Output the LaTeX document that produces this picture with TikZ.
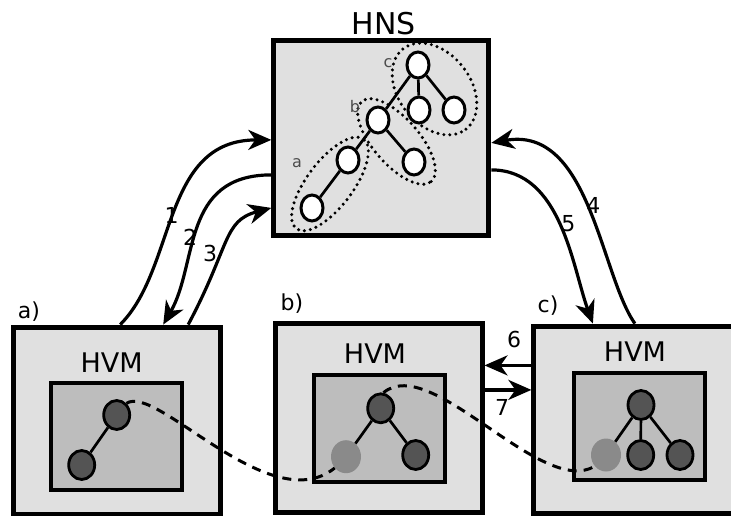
\documentclass[tikz,border=0pt]{standalone}
\usepackage{fontspec}
\setmainfont{DejaVu Sans}
\usepackage{tikz}
\usetikzlibrary{shapes,arrows.meta,positioning}
\definecolor{outergray}{gray}{0.88}
\definecolor{innergray}{gray}{0.74}
\definecolor{darknode}{gray}{0.33}
\definecolor{lightnode}{gray}{0.54}
\tikzset{edge/.style={line width=2.7pt}}

\begin{document}
\begin{tikzpicture}[x=1pt, y=1pt,
    box/.style={draw, line width=5pt, fill=outergray, inner sep=0pt},
    inbox/.style={draw, line width=4.4pt, fill=innergray, inner sep=0pt,
        minimum width=131pt, minimum height=107pt},
    hnode/.style={draw, ellipse, line width=3pt, fill=white, inner sep=0pt,
        minimum width=22pt, minimum height=26pt},
    vnode/.style={draw, ellipse, line width=2.8pt, fill=darknode, inner sep=0pt,
        minimum width=26pt, minimum height=29pt},
    ghost/.style={ellipse, fill=lightnode, inner sep=0pt,
        minimum width=30pt, minimum height=33pt},
    group/.style={draw, ellipse, line width=3.4pt, line cap=round,
        dash pattern=on 0pt off 6pt, inner sep=0pt},
    flow/.style={line width=3.2pt, -{Stealth[length=23pt,width=20pt,inset=7pt]}},
    migrate/.style={line width=3pt, dash pattern=on 9pt off 7pt},
    title/.style={font=\fontsize{27}{30}\selectfont},
    num/.style={font=\fontsize{22}{26}\selectfont},
    tag/.style={font=\fontsize{22}{26}\selectfont},
    small/.style={font=\fontsize{16}{18}\selectfont, text=black!70}]

    \useasboundingbox (0,0) rectangle (731,515);

    % name server
    \node[box, minimum width=215pt, minimum height=195pt] (hns) at (381.3,377.1) {};
    \node[title, font=\fontsize{30}{34}\selectfont] (hnst) at (383.5,491) {HNS};
    \node[group, minimum width=112pt, minimum height=46pt, rotate=53] (ga) at (330,331) {};
    \node[group, minimum width=106pt, minimum height=46pt, rotate=-49] (gb) at (396.5,373.5) {};
    \node[group, minimum width=102pt, minimum height=72pt, rotate=-52] (gc) at (434.5,426) {};
    \node[hnode] (c0) at (418,450) {};
    \node[hnode] (c1) at (419,405) {};
    \node[hnode] (c2) at (454,405) {};
    \node[hnode] (b0) at (378,395) {};
    \node[hnode] (b1) at (414,353) {};
    \node[hnode] (a1) at (348,355) {};
    \node[hnode] (a0) at (312,307) {};
    \draw[edge] (c0) -- (b0) (c0) -- (c1) (c0) -- (c2)
        (b0) -- (a1) (b0) -- (b1) (a1) -- (a0);
    \node[small] (la) at (297,352) {a};
    \node[small] (lb) at (355,408) {b};
    \node[small] (lc) at (388,452) {c};

    % vm a
    \node[box, minimum width=207pt, minimum height=187pt] (ha) at (117.2,94.4) {};
    \node[tag] (ta) at (29,203) {a)};
    \node[title] (hvma) at (111.7,152.5) {HVM};
    \node[inbox] (ia) at (116.3,78.5) {};
    \node[vnode] (na1) at (116.7,100) {};
    \node[vnode] (na0) at (81.7,50) {};
    \draw[edge] (na1) -- (na0);

    % vm b
    \node[box, minimum width=207pt, minimum height=189pt] (hb) at (378.5,96.6) {};
    \node[tag] (tb) at (292,211) {b)};
    \node[title] (hvmb) at (375,161.5) {HVM};
    \node[inbox] (ib) at (379.3,86.5) {};
    \node[vnode] (nb0) at (380.7,106.7) {};
    \node[ghost] (nbl) at (346,58.3) {};
    \node[vnode] (nbr) at (415.7,60) {};
    \draw[edge] (nb0) -- (nbl) (nb0) -- (nbr);

    % vm c
    \node[box, minimum width=206pt, minimum height=187pt] (hc) at (636.9,95.4) {};
    \node[tag] (tc) at (548,209) {c)};
    \node[title] (hvmc) at (635,163) {HVM};
    \node[inbox] (ic) at (639.4,88.8) {};
    \node[vnode] (nc0) at (641,110) {};
    \node[ghost] (ncl) at (606,60) {};
    \node[vnode] (ncm) at (640.7,60) {};
    \node[vnode] (ncr) at (680,60) {};
    \draw[edge] (nc0) -- (ncl) (nc0) -- (ncm) (nc0) -- (ncr);

    % migration
    \draw[migrate] (na1.50) .. controls +(34:36pt) and +(219:83pt) .. (nbl.225);
    \draw[migrate] (nb0.80) .. controls +(40:62pt) and +(211:62pt) .. (ncl.225);

    % messages
    \draw[flow] ([xshift=3pt]ha.north) .. controls +(45:80pt) and +(180:110pt) .. ([yshift=-2pt]hns.west);
    \draw[flow] ([yshift=-37pt]hns.west) .. controls +(180:90pt) and +(60:70pt) .. ([xshift=46pt]ha.north);
    \draw[flow] ([xshift=71pt]ha.north) .. controls +(62:90pt) and +(195:50pt) .. ([yshift=-70pt]hns.west);
    \draw[flow] ([xshift=-2pt]hc.north) .. controls +(125:60pt) and +(10:100pt) .. ([yshift=-5pt]hns.east);
    \draw[flow] ([yshift=-32pt]hns.east) .. controls +(0:70pt) and +(110:60pt) .. ([xshift=-44pt]hc.north);
    \coordinate (s6) at ([yshift=53pt]hb.east);
    \coordinate (s7) at ([yshift=28.5pt]hb.east);
    \draw[flow] (s6 -| hc.west) -- (s6);
    \draw[flow] (s7) -- (s7 -| hc.west);

    \node[num] (l1) at (171.7,300) {1};
    \node[num] (l2) at (190,278) {2};
    \node[num] (l3) at (210,262) {3};
    \node[num] (l4) at (593.3,310) {4};
    \node[num] (l5) at (568.3,291.7) {5};
    \node[num] (l6) at (514,176) {6};
    \node[num] (l7) at (502,108) {7};
\end{tikzpicture}
\end{document}
